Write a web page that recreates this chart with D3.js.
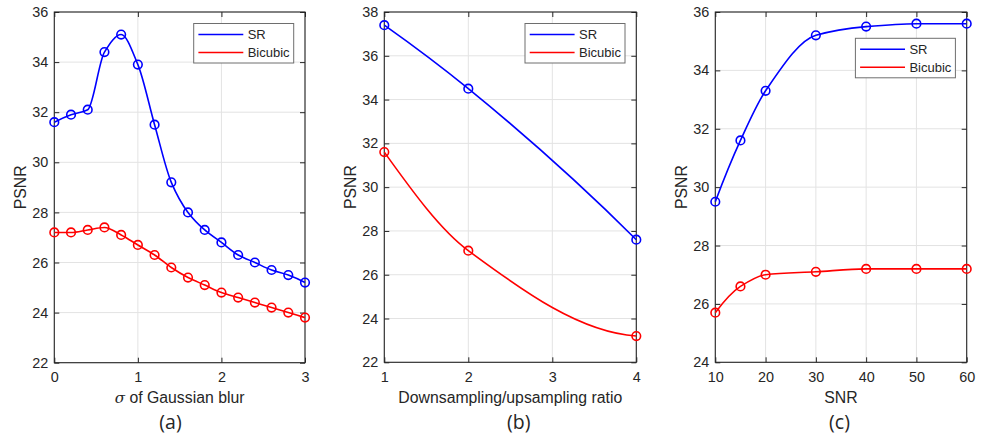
<!DOCTYPE html>
<html><head><meta charset="utf-8">
<script src="https://cdn.jsdelivr.net/npm/d3@7"></script>
<style>
html,body{margin:0;padding:0;background:#fff;}
svg{display:block;}
text{font-family:"Liberation Sans",Arial,sans-serif;fill:#262626;}
</style></head>
<body>
<svg id="chart" width="983" height="440"></svg>
<script>
// ---- data ----
const sigmaX = [0,0.2,0.4,0.6,0.8,1.0,1.2,1.4,1.6,1.8,2.0,2.2,2.4,2.6,2.8,3.0];
const sigmaSR = [31.6,31.9,32.1,34.4,35.1,33.9,31.5,29.2,28.0,27.3,26.8,26.3,26.0,25.7,25.5,25.2];
const sigmaBicubic = [27.2,27.2,27.3,27.4,27.1,26.7,26.3,25.8,25.4,25.1,24.8,24.6,24.4,24.2,24.0,23.8];

const ratioX = [1,2,4];
const ratioSR = [37.4,34.5,27.6];
const ratioBicubic = [31.6,27.1,23.2];

const snrX = [10,15,20,30,40,50,60];
const snrSR = [29.5,31.6,33.3,35.2,35.5,35.6,35.6];
const snrBicubic = [25.7,26.6,27.0,27.1,27.2,27.2,27.2];

const ticksA_x = [0,1,2,3];
const ticksA_y = [22,24,26,28,30,32,34,36];
const ticksB_x = [1,2,3,4];
const ticksB_y = [22,24,26,28,30,32,34,36,38];
const ticksC_x = [10,20,30,40,50,60];
const ticksC_y = [24,26,28,30,32,34,36];

const seriesNames = ["SR","Bicubic"];
const seriesColors = ["#0000ff","#ff0000"];

// ---- MATLAB-like pchip curve for d3.line ----
function pchipEnd(h1,h2,d1,d2){
  let d = ((2*h1+h2)*d1 - h1*d2)/(h1+h2);
  if (Math.sign(d) !== Math.sign(d1)) d = 0;
  else if (Math.sign(d1) !== Math.sign(d2) && Math.abs(d) > Math.abs(3*d1)) d = 3*d1;
  return d;
}
function Pchip(context){ this._context = context; }
Pchip.prototype = {
  areaStart(){}, areaEnd(){},
  lineStart(){ this._x=[]; this._y=[]; },
  point(x,y){ this._x.push(+x); this._y.push(+y); },
  lineEnd(){
    const x=this._x, y=this._y, n=x.length, c=this._context;
    if (!n) return;
    c.moveTo(x[0],y[0]);
    if (n===1) return;
    const h=[], del=[];
    for (let i=0;i<n-1;i++){ h.push(x[i+1]-x[i]); del.push((y[i+1]-y[i])/h[i]); }
    const d = new Array(n).fill(0);
    if (n===2){ d[0]=d[1]=del[0]; }
    else {
      for (let k=1;k<n-1;k++){
        if (del[k-1]*del[k] > 0){
          const w1 = 2*h[k]+h[k-1], w2 = h[k]+2*h[k-1];
          d[k] = (w1+w2)/(w1/del[k-1] + w2/del[k]);
        }
      }
      d[0] = pchipEnd(h[0],h[1],del[0],del[1]);
      d[n-1] = pchipEnd(h[n-2],h[n-3],del[n-2],del[n-3]);
    }
    for (let i=0;i<n-1;i++){
      const t=h[i]/3;
      c.bezierCurveTo(x[i]+t, y[i]+d[i]*t, x[i+1]-t, y[i+1]-d[i+1]*t, x[i+1], y[i+1]);
    }
  }
};
const curvePchip = ctx => new Pchip(ctx);

const svg = d3.select("#chart");

function panel(opt){
  const g = svg.append("g");
  const x = d3.scaleLinear().domain(opt.xDomain).range([opt.left, opt.right]);
  const y = d3.scaleLinear().domain(opt.yDomain).range([opt.bottom, opt.top]);
  const W = opt.right-opt.left, H = opt.bottom-opt.top;

  // grid
  g.append("g").selectAll("line.gx").data(opt.xTicks).join("line")
    .attr("x1",d=>x(d)).attr("x2",d=>x(d)).attr("y1",opt.top).attr("y2",opt.bottom)
    .attr("stroke","#e3e3e3").attr("stroke-width",1);
  g.append("g").selectAll("line.gy").data(opt.yTicks).join("line")
    .attr("y1",d=>y(d)).attr("y2",d=>y(d)).attr("x1",opt.left).attr("x2",opt.right)
    .attr("stroke","#e3e3e3").attr("stroke-width",1);

  // axes with inward ticks on all sides
  const tl = 5;
  const axB = g.append("g").attr("transform",`translate(0,${opt.bottom})`)
    .call(d3.axisBottom(x).tickValues(opt.xTicks).tickSize(-tl).tickPadding(9).tickFormat(d3.format("d")));
  const axT = g.append("g").attr("transform",`translate(0,${opt.top})`)
    .call(d3.axisTop(x).tickValues(opt.xTicks).tickSize(-tl).tickFormat(""));
  const axL = g.append("g").attr("transform",`translate(${opt.left},0)`)
    .call(d3.axisLeft(y).tickValues(opt.yTicks).tickSize(-tl).tickPadding(6).tickFormat(d3.format("d")));
  const axR = g.append("g").attr("transform",`translate(${opt.right},0)`)
    .call(d3.axisRight(y).tickValues(opt.yTicks).tickSize(-tl).tickFormat(""));
  [axB,axT,axL,axR].forEach(a=>{
    a.select(".domain").remove();
    a.selectAll("line").attr("stroke","#262626");
    a.selectAll("text").style("font-family","'Liberation Sans',Arial,sans-serif")
      .style("font-size","14.4px").attr("fill","#262626");
  });
  g.append("rect").attr("x",opt.left).attr("y",opt.top).attr("width",W).attr("height",H)
    .attr("fill","none").attr("stroke","#262626").attr("stroke-width",1.1);

  // series
  const line = d3.line().x(d=>x(d[0])).y(d=>y(d[1])).curve(curvePchip);
  opt.series.forEach((vals,i)=>{
    const pts = opt.xData.map((xv,j)=>[xv,vals[j]]);
    g.append("path").datum(pts).attr("d",line).attr("fill","none")
      .attr("stroke",seriesColors[i]).attr("stroke-width",1.6);
    g.append("g").selectAll("circle").data(pts).join("circle")
      .attr("cx",d=>x(d[0])).attr("cy",d=>y(d[1])).attr("r",4.3)
      .attr("fill","none").attr("stroke",seriesColors[i]).attr("stroke-width",1.6);
  });

  // legend
  const lw=100, lh=39.5;
  const lx = opt.right - 11.3 - lw, ly = opt.legendTop;
  const lg = g.append("g");
  lg.append("rect").attr("x",lx).attr("y",ly).attr("width",lw).attr("height",lh)
    .attr("fill","#fff").attr("stroke","#6e6e6e").attr("stroke-width",1);
  seriesNames.forEach((nm,i)=>{
    const yy = ly + 11 + i*18;
    lg.append("line").attr("x1",lx+4.7).attr("x2",lx+49.6).attr("y1",yy).attr("y2",yy)
      .attr("stroke",seriesColors[i]).attr("stroke-width",1.6);
    lg.append("text").attr("x",lx+54).attr("y",yy+4.6).style("font-size","13px").text(nm);
  });

  // axis labels
  const xl = g.append("text").attr("x",(opt.left+opt.right)/2).attr("y",402.5)
    .attr("text-anchor","middle").style("font-size","15.8px");
  if (opt.xLabelItalic){
    xl.append("tspan").style("font-style","italic").style("font-family","'DejaVu Serif',serif").style("font-size","15px").text(opt.xLabelItalic);
  }
  xl.append("tspan").text(opt.xLabel);
  g.append("text").attr("transform",`translate(${opt.yLabelX},${(opt.top+opt.bottom)/2}) rotate(-90)`)
    .attr("text-anchor","middle").style("font-size","15.8px").text("PSNR");
  g.append("text").attr("x",opt.capX).attr("y",429).attr("text-anchor","middle")
    .style("font-family","'Open Sans',sans-serif").style("font-size","19.5px").attr("fill","#000").text(opt.caption);
}

panel({left:54.3,right:305,top:12,bottom:362.7,xDomain:[0,3],yDomain:[22,36],
  xTicks:ticksA_x,yTicks:ticksA_y,xData:sigmaX,series:[sigmaSR,sigmaBicubic],
  legendTop:23.5,xLabelItalic:"σ",xLabel:" of Gaussian blur",yLabelX:26,capX:170.5,caption:"(a)"});
panel({left:384.3,right:636.3,top:12,bottom:362.3,xDomain:[1,4],yDomain:[22,38],
  xTicks:ticksB_x,yTicks:ticksB_y,xData:ratioX,series:[ratioSR,ratioBicubic],
  legendTop:23.5,xLabel:"Downsampling/upsampling ratio",yLabelX:356,capX:518.8,caption:"(b)"});
panel({left:715.3,right:966.7,top:12,bottom:362.3,xDomain:[10,60],yDomain:[24,36],
  xTicks:ticksC_x,yTicks:ticksC_y,xData:snrX,series:[snrSR,snrBicubic],
  legendTop:38.3,xLabel:"SNR",yLabelX:687,capX:839.5,caption:"(c)"});
</script>
</body></html>
